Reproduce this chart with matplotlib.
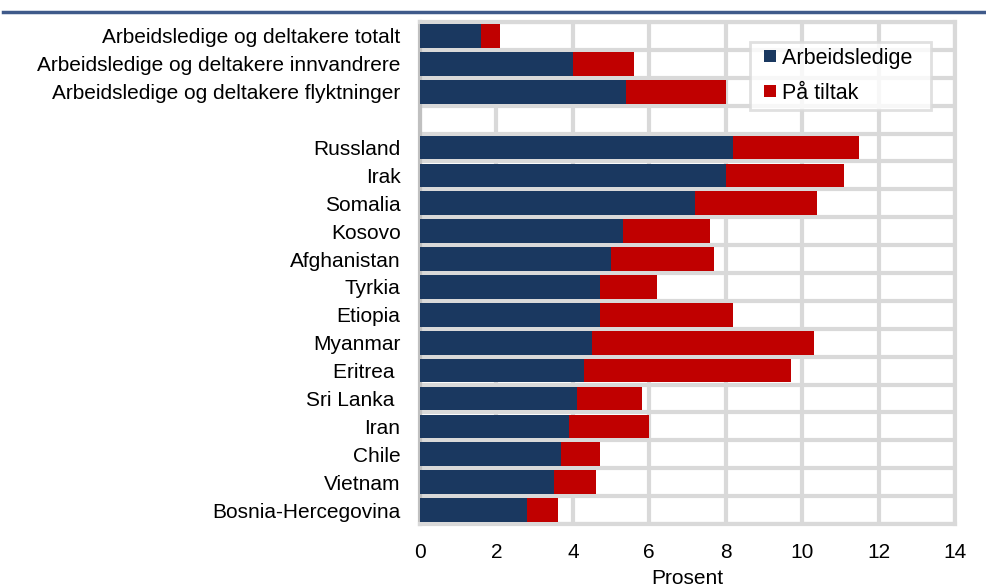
import numpy as np
import matplotlib
matplotlib.use("Agg")
import matplotlib.pyplot as plt
from matplotlib.lines import Line2D

plt.rcParams["font.family"] = ["Liberation Sans", "DejaVu Sans"]

# ---------------------------------------------------------------------------
# Data (prosent)
# ---------------------------------------------------------------------------
categories = [
    "Arbeidsledige og deltakere totalt",
    "Arbeidsledige og deltakere innvandrere",
    "Arbeidsledige og deltakere flyktninger",
    "",
    "Russland", "Irak", "Somalia", "Kosovo", "Afghanistan", "Tyrkia",
    "Etiopia", "Myanmar", "Eritrea ", "Sri Lanka ", "Iran", "Chile",
    "Vietnam", "Bosnia-Hercegovina",
]
arbeidsledige = [1.6, 4.0, 5.4, 0,
                 8.2, 8.0, 7.2, 5.3, 5.0, 4.7, 4.7, 4.5, 4.3, 4.1, 3.9, 3.7, 3.5, 2.8]
paa_tiltak = [0.5, 1.6, 2.6, 0,
              3.3, 3.1, 3.2, 2.3, 2.7, 1.5, 3.5, 5.8, 5.4, 1.7, 2.1, 1.0, 1.1, 0.8]

navy = "#1a3860"
red = "#c00000"
grid_c = "#d9d9d9"

fig = plt.figure(figsize=(9.87, 5.87), dpi=100)
ax = fig.add_axes([420 / 987, 1 - 524 / 587, 535 / 987, 502 / 587])

y = np.arange(len(categories))
ax.barh(y, arbeidsledige, height=0.85, color=navy, linewidth=0, zorder=3,
        label="Arbeidsledige")
ax.barh(y, paa_tiltak, left=arbeidsledige, height=0.85, color=red,
        linewidth=0, zorder=3, label="På tiltak")

ax.set_ylim(len(categories) - 0.5, -0.5)
ax.set_xlim(0, 14)
ax.set_xticks(np.arange(0, 15, 2))
ax.set_yticks(y)
ax.set_yticklabels(categories)
ax.set_yticks(np.arange(-0.5, len(categories), 1), minor=True)

ax.tick_params(axis="both", which="both", length=0, labelsize=15)
ax.tick_params(axis="y", pad=14)
ax.tick_params(axis="x", pad=14)

ax.grid(axis="x", which="major", color=grid_c, linewidth=3, zorder=0)
ax.grid(axis="y", which="minor", color=grid_c, linewidth=3, zorder=0)
ax.grid(axis="y", which="major", visible=False)

for side in ["top", "right", "bottom"]:
    ax.spines[side].set_color(grid_c)
    ax.spines[side].set_linewidth(3)
ax.spines["left"].set_color("#c0c0c0")
ax.spines["left"].set_linewidth(3)

ax.set_xlabel("Prosent", fontsize=15, labelpad=5)

# legende med kvadratiske markører
handles = [Line2D([], [], linestyle="none", marker="s", markersize=8.6,
                  markerfacecolor=navy, markeredgewidth=0, label="Arbeidsledige  "),
           Line2D([], [], linestyle="none", marker="s", markersize=8.6,
                  markerfacecolor=red, markeredgewidth=0, label="På tiltak")]
leg = ax.legend(handles=handles, loc="upper left",
                bbox_to_anchor=((750 - 420) / 535, (524 - 41.5) / 502),
                borderaxespad=0, fontsize=15.5, frameon=True, fancybox=False,
                handlelength=1.3, handletextpad=-0.12,
                labelspacing=0.64, borderpad=0.3)
leg.get_frame().set_edgecolor(grid_c)
leg.get_frame().set_linewidth(2)
leg.set_zorder(5)

# blå linje øverst
fig.add_artist(Line2D([3 / 987, 1], [1 - 12 / 587, 1 - 12 / 587],
                      color="#3f5a8a", linewidth=2.5))

fig.savefig("out.png", dpi=100)
